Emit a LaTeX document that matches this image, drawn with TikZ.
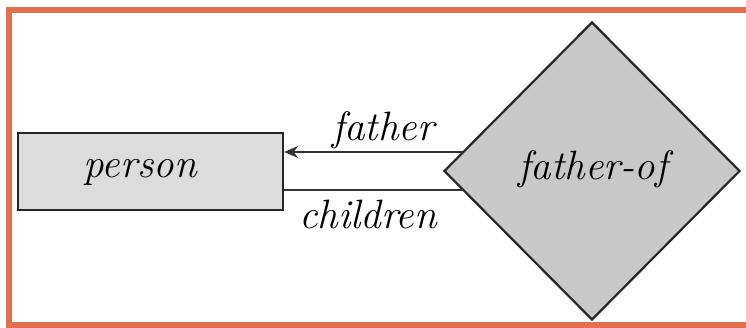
\documentclass[tikz,border=0pt]{standalone}
\usetikzlibrary{shapes.geometric,arrows.meta}
\definecolor{frameor}{HTML}{E2704F}
\definecolor{entgray}{HTML}{DCDCDC}
\definecolor{relgray}{HTML}{C8C8C8}
\begin{document}
\begin{tikzpicture}[x=1pt,y=-1pt,
  lbl/.style={font=\fontsize{41}{44}\selectfont\itshape, inner sep=0pt, anchor=base},
  entity/.style={draw=black!85, line width=2.2pt, fill=entgray, minimum width=265pt, minimum height=77pt, inner sep=0pt},
  rel/.style={draw=black!85, line width=2.2pt, fill=relgray, diamond, minimum width=296pt, minimum height=298pt, inner sep=0pt},
  conn/.style={draw=black!80, line width=2.8pt}]
\useasboundingbox (0,0) rectangle (746,328);
\fill[white] (0,0) rectangle (746,328);
\draw[frameor, line width=6pt] (760,10) -- (8.5,10) -- (8.5,325) -- (760,325);
\node[entity] (person) at (150.5,171.5) {};
\node[lbl] (personlbl) at (140,178) {person};
\node[rel] (fof) at (592,171) {};
\node[lbl] (foflbl) at (593,180) {father-of};
\coordinate (a1) at (person.east |- 0,152);
\coordinate (a2) at (person.east |- 0,190);
\coordinate (b1) at (463,152);
\coordinate (b2) at (463,190);
\draw[conn, -{Stealth[length=14pt,width=12pt]}] (b1) -- (a1);
\draw[conn] (b2) -- (a2);
\node[lbl] (father) at (383,141) {father};
\node[lbl] (children) at (368,229) {children};
\end{tikzpicture}
\end{document}
